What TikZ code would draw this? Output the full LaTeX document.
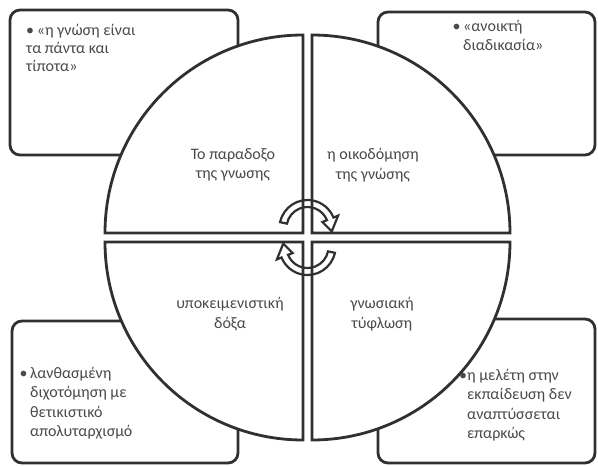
\documentclass[tikz,border=0pt]{standalone}
\usepackage{fontspec}
\setmainfont{Carlito}
\definecolor{ln}{HTML}{303030}
\definecolor{tx}{HTML}{4a4a4a}
\begin{document}
\begin{tikzpicture}[x=1pt,y=-1pt]
\tikzset{
  boxsty/.style={draw=ln, line width=2.8pt, rounded corners=10pt, fill=white},
  quad/.style={draw=ln, line width=2.8pt, fill=white, line join=miter},
  arr/.style={draw=ln, line width=2.2pt, line join=miter},
  lbl/.style={font=\fontsize{16}{19.5}\selectfont, text=tx, align=center, inner sep=0pt},
  btxt/.style={font=\fontsize{16}{19.5}\selectfont, text=tx, align=left, anchor=north west, inner sep=0pt}
}
\useasboundingbox (0,0) rectangle (598,466);
% boxes
\draw[boxsty] (10,10) rectangle (238,155);
\draw[boxsty] (378,12) rectangle (595,155);
\draw[boxsty] (12,321) rectangle (238,463);
\draw[boxsty] (378,319) rectangle (595,463);
% quadrants
\draw[quad] (303,233) -- (105,233) arc[start angle=180,end angle=270,radius=198] -- cycle;
\draw[quad] (312,233) -- (312,35) arc[start angle=270,end angle=360,radius=198] -- cycle;
\draw[quad] (312,242) -- (510,242) arc[start angle=0,end angle=90,radius=198] -- cycle;
\draw[quad] (303,242) -- (303,440) arc[start angle=90,end angle=180,radius=198] -- cycle;
% cycle arrows
\begin{scope}[shift={(307.5,228)}]
\draw[arr] (192:28) arc[start angle=192,end angle=338,radius=28] -- (338:33) -- (8:24.5) -- (338:16) -- (338:21) arc[start angle=338,end angle=192,radius=21] -- cycle;
\end{scope}
\begin{scope}[shift={(307.5,247)}]
\draw[arr] (12:28) arc[start angle=12,end angle=158,radius=28] -- (158:33) -- (188:24.5) -- (158:16) -- (158:21) arc[start angle=158,end angle=12,radius=21] -- cycle;
\end{scope}
% quadrant labels
\node[lbl] (qtl) at (233,165) {Το παραδοξο\\της γνωσης};
\node[lbl] (qtr) at (373,165) {η οικοδόμηση\\της γνώσης};
\node[lbl] (qbl) at (230,314) {υποκειμενιστική\\δόξα};
\node[lbl] (qbr) at (382,314) {γνωσιακή\\τύφλωση};
% box texts
\node[btxt, font=\fontsize{16}{18}\selectfont] (btl) at (26,24) {•\,«η γνώση είναι\\τα πάντα και\\τίποτα»};
\node[btxt] (btr) at (463,20) {\llap{•\,}«ανοικτή\\διαδικασία»};
\node[btxt] (bbl) at (30,367) {\llap{•\,}λανθασμένη\\διχοτόμηση με\\θετικιστικό\\απολυταρχισμό};
\node[btxt] (bbr) at (467,369) {\llap{•}η μελέτη στην\\εκπαίδευση δεν\\αναπτύσσεται\\επαρκώς};
\end{tikzpicture}
\end{document}
